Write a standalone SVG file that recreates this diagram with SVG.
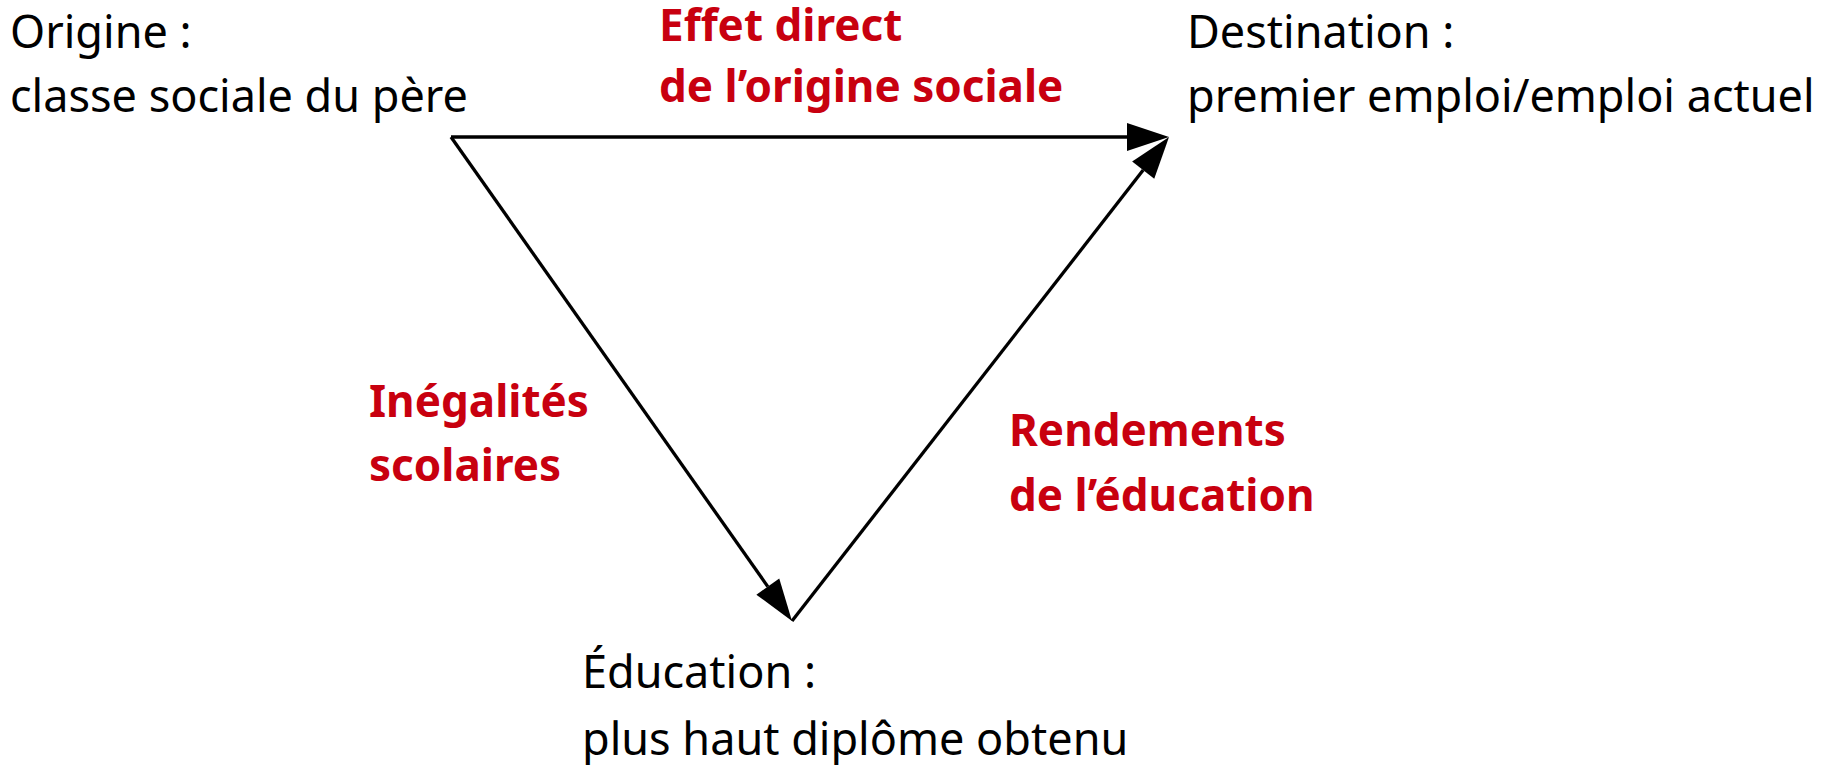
<svg xmlns="http://www.w3.org/2000/svg" width="1821" height="765" viewBox="0 0 1821 765">
  <style>
    .lbl { font-family: "Noto Sans", "DejaVu Sans", sans-serif; font-size: 45px; fill: #000000; }
    .red { font-family: "Noto Sans", "DejaVu Sans", sans-serif; font-size: 44px; font-weight: bold; fill: #c8000f; }
    .edge { stroke: #000000; stroke-width: 3.3; fill: none; }
  </style>
  <defs>
    <marker id="arrow" markerUnits="userSpaceOnUse" markerWidth="42" markerHeight="28" refX="0" refY="14" orient="auto" overflow="visible">
      <path d="M0,0 L42,14 L0,28 Z" fill="#000000"/>
    </marker>
  </defs>
  <rect width="1821" height="765" fill="#ffffff"/>

  <g id="connectors">
    <line class="edge" x1="451" y1="137" x2="1127" y2="137" marker-end="url(#arrow)"/>
    <line class="edge" x1="451" y1="137" x2="767.8" y2="586.6" marker-end="url(#arrow)"/>
    <line class="edge" x1="792" y1="621" x2="1143.2" y2="170.1" marker-end="url(#arrow)"/>
  </g>

  <g id="origine">
    <text class="lbl" x="10" y="48">Origine :</text>
    <text class="lbl" x="10" y="112">classe sociale du père</text>
  </g>
  <g id="destination">
    <text class="lbl" x="1187" y="48">Destination :</text>
    <text class="lbl" x="1187" y="112">premier emploi/emploi actuel</text>
  </g>
  <g id="education">
    <text class="lbl" x="582" y="688">Éducation :</text>
    <text class="lbl" x="582" y="755">plus haut diplôme obtenu</text>
  </g>

  <g id="label-effet-direct">
    <text class="red" x="659" y="41">Effet direct</text>
    <text class="red" x="659" y="102">de l’origine sociale</text>
  </g>
  <g id="label-inegalites">
    <text class="red" x="369" y="417">Inégalités</text>
    <text class="red" x="369" y="481">scolaires</text>
  </g>
  <g id="label-rendements">
    <text class="red" x="1009" y="446">Rendements</text>
    <text class="red" x="1009" y="511">de l’éducation</text>
  </g>
</svg>
